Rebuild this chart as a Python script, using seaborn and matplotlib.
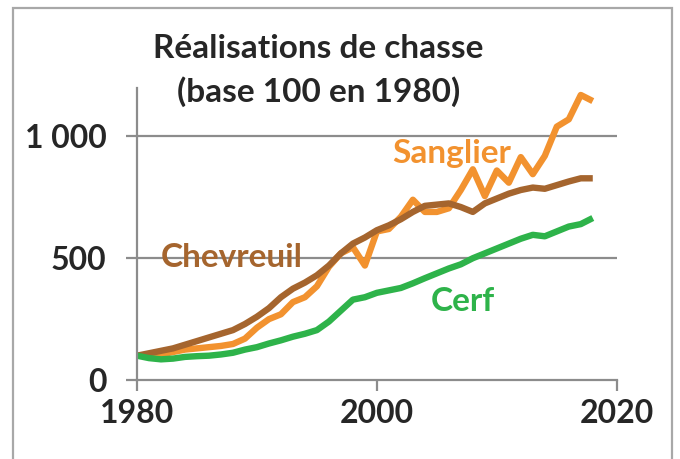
"""Hunting harvest index chart (base 100 in 1980)."""

import matplotlib
matplotlib.use("Agg")
import matplotlib.pyplot as plt
import pandas as pd
import seaborn as sns

years = list(range(1980, 2019))

sanglier = [100, 100, 105, 115, 125, 130, 135, 140, 148, 170,
            215, 250, 270, 320, 340, 385, 465, 520, 545, 470,
            610, 620, 670, 740, 690, 690, 705, 780, 865, 755,
            860, 810, 915, 845, 920, 1040, 1070, 1170, 1145]
chevreuil = [100, 110, 120, 130, 145, 160, 175, 190, 205, 230,
             260, 295, 340, 375, 400, 430, 470, 520, 560, 585,
             615, 635, 660, 690, 715, 720, 725, 710, 690, 725,
             745, 765, 780, 790, 785, 800, 815, 828, 828]
cerf = [100, 90, 85, 88, 95, 98, 100, 105, 112, 125,
        135, 150, 163, 178, 190, 205, 240, 285, 330, 340,
        358, 368, 378, 397, 418, 438, 458, 475, 500, 520,
        540, 560, 580, 596, 590, 610, 630, 640, 665]

SERIES = ["Sanglier", "Chevreuil", "Cerf"]
COLORS = {"Sanglier": "#F2922F", "Chevreuil": "#A5652E", "Cerf": "#2EB34A"}
# label positions (year, value)
LABEL_POS = {"Sanglier": (2006.2, 928), "Chevreuil": (1987.9, 505), "Cerf": (2007.2, 322)}

x_ticks = [1980, 2000, 2020]
y_ticks = [0, 500, 1000]
y_ticklabels = ["0", "500", "1 000"]

df = pd.DataFrame({
    "annee": years * 3,
    "indice": sanglier + chevreuil + cerf,
    "espece": [s for s in SERIES for _ in years],
})

sns.set_style("white")
plt.rcParams["font.family"] = ["Lato", "DejaVu Sans"]

fig = plt.figure(figsize=(6.8, 4.59), dpi=100)
ax = fig.add_axes([0.2015, 0.172, 0.7055, 0.637])

sns.lineplot(data=df, x="annee", y="indice", hue="espece", hue_order=SERIES,
             palette=COLORS, linewidth=4.6, legend=False, ax=ax,
             solid_capstyle="butt")

ax.set_xlim(1980, 2020)
ax.set_ylim(0, 1200)
ax.set_xticks(x_ticks)
ax.set_xticklabels([str(t) for t in x_ticks], fontsize=23, fontweight="bold")
ax.set_yticks(y_ticks)
ax.set_yticklabels(y_ticklabels, fontsize=23, fontweight="bold")
ax.set_xlabel("")
ax.set_ylabel("")

for y in y_ticks[1:]:
    ax.axhline(y, color="#8c8c8c", lw=1.6, zorder=0)
for s in ["top", "right"]:
    ax.spines[s].set_visible(False)
for s in ["left", "bottom"]:
    ax.spines[s].set_color("#8c8c8c")
    ax.spines[s].set_linewidth(1.6)
ax.tick_params(axis="y", length=8, width=1.6, color="#8c8c8c", pad=14, left=True)
ax.tick_params(axis="x", length=8, width=1.6, color="#8c8c8c", pad=6, bottom=True)

for name in SERIES:
    lx, ly = LABEL_POS[name]
    ax.text(lx, ly, name, color=COLORS[name], fontsize=24, fontweight="bold",
            ha="center", va="center")

fig.text(0.468, 0.846, "Réalisations de chasse\n(base 100 en 1980)",
         ha="center", va="center", fontsize=24, fontweight="bold",
         linespacing=1.5)

border = plt.Rectangle((0.019, -0.01), 0.969, 0.993, transform=fig.transFigure,
                       fill=False, edgecolor="#a8a8a8", lw=1.6)
fig.patches.append(border)

fig.savefig("out.png", dpi=100)
plt.close(fig)
